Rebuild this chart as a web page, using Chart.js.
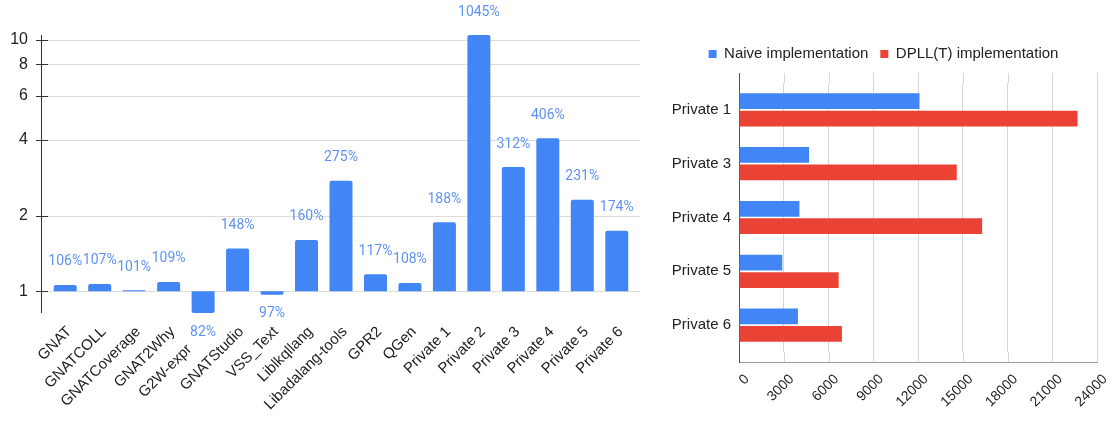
<!DOCTYPE html>
<html><head><meta charset="utf-8">
<script src="https://cdn.jsdelivr.net/npm/chart.js@4.4.0/dist/chart.umd.min.js"></script>
<style>
html,body{margin:0;padding:0;background:#fff;width:1110px;height:421px;overflow:hidden;}
#c1{position:absolute;left:0;top:0;}
#c2{position:absolute;left:650px;top:0;}
</style></head><body>
<canvas id="c1" width="650" height="421"></canvas>
<canvas id="c2" width="460" height="421"></canvas>
<script>
// ---- data: left chart (speed-up ratio, log scale, baseline 1) ----
const projects = ['GNAT','GNATCOLL','GNATCoverage','GNAT2Why','G2W-expr','GNATStudio','VSS_Text','Liblkqllang','Libadalang-tools','GPR2','QGen','Private 1','Private 2','Private 3','Private 4','Private 5','Private 6'];
const speedups = [1.06,1.07,1.01,1.09,0.82,1.48,0.97,1.60,2.75,1.17,1.08,1.88,10.45,3.12,4.06,2.31,1.74];
const speedupTicks = [1,2,4,6,8,10];
// ---- data: right chart (times) ----
const privateProjects = ['Private 1','Private 3','Private 4','Private 5','Private 6'];
const naiveTimes = [12100,4700,4050,2900,3950];
const dpllTimes = [22700,14600,16300,6680,6900];
const timeTicks = [0,3000,6000,9000,12000,15000,18000,21000,24000];

Chart.defaults.font.family = "'Liberation Sans', Arial, sans-serif";
Chart.defaults.color = '#222';

function line(ctx,x1,y1,x2,y2){ctx.beginPath();ctx.moveTo(x1,y1);ctx.lineTo(x2,y2);ctx.stroke();}

const leftDecor = {
  id:'leftDecor',
  beforeDatasetsDraw(chart){
    const {ctx, chartArea:a, scales:{y}} = chart;
    ctx.save();
    ctx.lineWidth = 1;
    speedupTicks.forEach(v=>{
      const py = Math.round(y.getPixelForValue(v))+0.5;
      ctx.strokeStyle = '#dcdcdc';
      line(ctx, 48, py, 640, py);
      ctx.strokeStyle = '#333';
      line(ctx, 36, py, 48, py);
    });
    ctx.strokeStyle = '#333';
    line(ctx, 41.5, a.top, 41.5, a.bottom);
    ctx.restore();
  },
  afterDatasetsDraw(chart){
    const {ctx} = chart;
    const meta = chart.getDatasetMeta(0);
    ctx.save();
    ctx.font = "14px Roboto, 'Liberation Sans', sans-serif";
    ctx.fillStyle = '#5f93f3';
    ctx.textAlign = 'center';
    ctx.textBaseline = 'middle';
    meta.data.forEach((bar,i)=>{
      const v = speedups[i];
      const txt = Math.round(v*100)+'%';
      const yy = v >= 1 ? bar.y - 23 : bar.y + 19;
      ctx.fillText(txt, bar.x, yy);
    });
    ctx.restore();
  }
};

new Chart(document.getElementById('c1'), {
  type:'bar',
  data:{labels:projects, datasets:[{data:speedups, base:1, backgroundColor:'#4285f4', barPercentage:0.667, categoryPercentage:1, borderRadius:2}]},
  options:{
    responsive:false, animation:false,
    layout:{padding:{top:35,right:16,left:0,bottom:0}},
    plugins:{legend:{display:false}, tooltip:{enabled:false}},
    scales:{
      x:{grid:{display:false}, border:{display:false},
         ticks:{autoSkip:false, maxRotation:45, minRotation:45, color:'#222', font:{size:15}, padding:2, labelOffset:4,
                // a label whose bar dips far below 1 is pushed down along its slant to clear the value label
                callback:(v,i)=> speedups[i] < 0.9 ? projects[i] + '\u00a0\u00a0\u00a0\u00a0\u00a0\u00a0' : projects[i]},
         afterFit(s){s.height=108;}},
      y:{type:'logarithmic', min:0.82, max:10.45,
         grid:{display:false}, border:{display:false},
         afterBuildTicks(s){s.ticks = speedupTicks.map(v=>({value:v}));},
         ticks:{callback:v=>String(v), color:'#222', font:{size:16}, padding:12, autoSkip:false},
         afterFit(s){s.width=48;}}
    }
  },
  plugins:[leftDecor]
});

// extends the value grid 10px beyond the category band, as in the original
const rightDecor = {
  id:'rightDecor',
  beforeDatasetsDraw(chart){
    const ctx = chart.ctx;
    const a = chart.chartArea;
    const xs = chart.scales.x;
    const t = Math.round(a.top), b = Math.round(a.bottom);
    ctx.save();
    ctx.lineWidth = 1;
    ctx.strokeStyle = '#d6d6d6';
    for (const v of timeTicks) {
      const px = Math.round(xs.getPixelForValue(v)) + 0.5;
      line(ctx, px, t - 10, px, t);
      line(ctx, px, b, px, b + 10);
    }
    ctx.strokeStyle = '#999999';
    line(ctx, Math.round(a.left), b + 10.5, Math.round(a.right) + 1, b + 10.5);
    ctx.strokeStyle = '#555555';
    const x0 = Math.round(xs.getPixelForValue(0)) + 0.5;
    line(ctx, x0, t - 10, x0, b + 11);
    ctx.restore();
  }
};

new Chart(document.getElementById('c2'), {
  type:'bar',
  data:{labels:privateProjects, datasets:[
    {label:'Naive implementation', data:naiveTimes, backgroundColor:'#4285f4'},
    {label:'DPLL(T) implementation', data:dpllTimes, backgroundColor:'#ea4335'}
  ]},
  options:{
    indexAxis:'y', responsive:false, animation:false,
    datasets:{bar:{categoryPercentage:0.65, barPercentage:0.9}},
    layout:{padding:{top:34.5,right:13,left:20,bottom:0}},
    plugins:{
      legend:{position:'top', labels:{boxWidth:8, boxHeight:8, color:'#222', font:{size:15}, padding:12}},
      tooltip:{enabled:false}
    },
    scales:{
      x:{min:0, max:24000,
         afterBuildTicks(s){s.ticks = timeTicks.map(v=>({value:v}));},
         grid:{display:true, color:'#d6d6d6', drawTicks:true, tickLength:19, tickColor:'rgba(0,0,0,0)'}, border:{display:false},
         ticks:{callback:v=>String(v), maxRotation:45, minRotation:45, color:'#222', font:{size:14}, padding:0, labelOffset:8, autoSkip:false},
         afterFit(s){s.height=69;}},
      xTop:{type:'linear', position:'top', min:0, max:1, display:true,
         grid:{display:false}, border:{display:false}, ticks:{display:false},
         afterFit(s){s.height=11.5;}},
      y:{grid:{display:false}, border:{display:false},
         ticks:{color:'#222', font:{size:15}, padding:0},
         afterFit(s){s.width=69;}}
    }
  },
  plugins:[rightDecor]
});
</script>
</body></html>
